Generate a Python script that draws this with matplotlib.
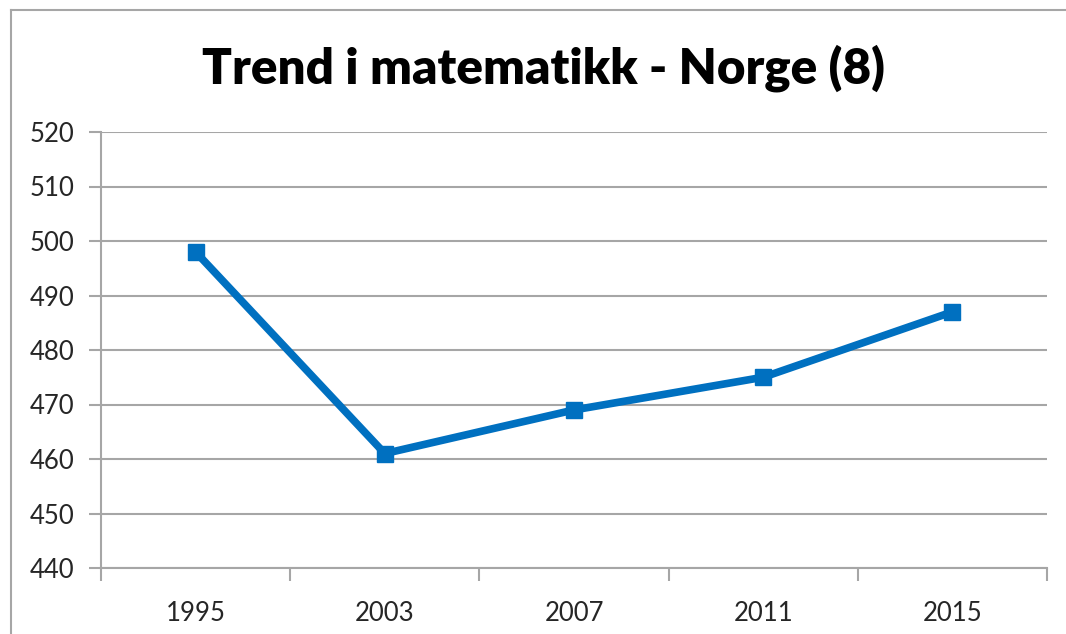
import numpy as np
import matplotlib
matplotlib.use('Agg')
from matplotlib import pyplot as plt
from matplotlib.lines import Line2D

years = ['1995', '2003', '2007', '2011', '2015']
scores = [498, 461, 469, 475, 487]
yticks = [440, 450, 460, 470, 480, 490, 500, 510, 520]

plt.rcParams['font.family'] = ['Lato', 'DejaVu Sans']

fig = plt.figure(figsize=(10.66, 6.34), dpi=100)
ax = fig.add_axes([101 / 1066, 1 - 568 / 634, 946 / 1066, 436 / 634])

# chart frame (only top and left edges are inside the crop)
fx = 11 / 1066
fy = 1 - 10 / 634
fig.lines.append(Line2D([fx, fx], [0, fy], transform=fig.transFigure, color='#a6a6a6', linewidth=1.5))
fig.lines.append(Line2D([fx, 1], [fy, fy], transform=fig.transFigure, color='#a6a6a6', linewidth=1.5))

x = np.arange(len(years))
ax.plot(x, scores, color='#0070c0', linewidth=5.5, marker='s', markersize=12,
        markeredgecolor='#0070c0', markerfacecolor='#0070c0', zorder=3)

ax.set_xlim(-0.5, len(years) - 0.5)
ax.set_ylim(440, 520)
ax.set_yticks(yticks)
ax.set_xticks(x)
ax.set_xticklabels(years)
ax.set_xticks(np.arange(-0.5, len(years)), minor=True)
ax.grid(axis='y', color='#a6a6a6', linewidth=1.5)
ax.set_axisbelow(True)

for s in ['top', 'right']:
    ax.spines[s].set_visible(False)
for s in ['left', 'bottom']:
    ax.spines[s].set_color('#a6a6a6')
    ax.spines[s].set_linewidth(1.5)

ax.tick_params(axis='x', which='major', length=0, pad=24, labelsize=18.5, labelcolor='#262626')
ax.tick_params(axis='x', which='minor', length=9, width=1.5, color='#a6a6a6')
ax.tick_params(axis='y', length=9, width=1.5, color='#a6a6a6', pad=10, labelsize=18.5, labelcolor='#262626')

fig.text(543 / 1066, 1 - 68 / 634, 'Trend i matematikk - Norge (8)', ha='center', va='center',
         fontsize=35.5, fontweight='heavy', color='black')

fig.savefig('out.png', dpi=100)
